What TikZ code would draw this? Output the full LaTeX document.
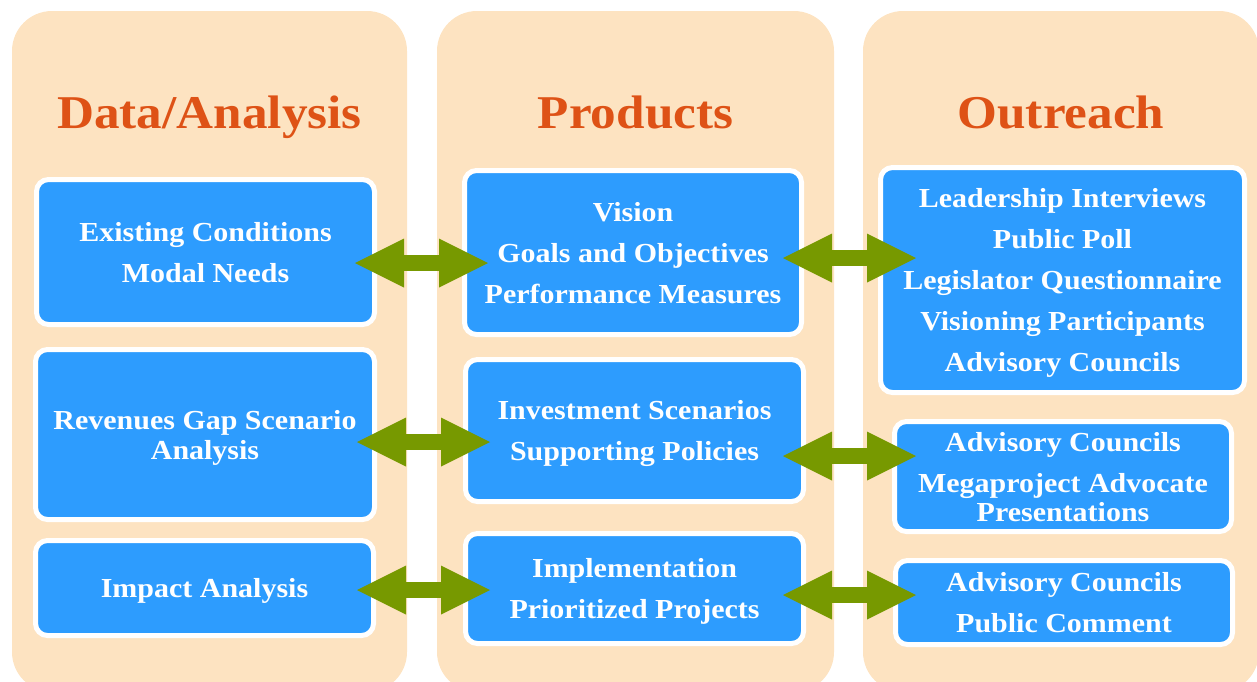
\documentclass[tikz,border=0pt]{standalone}
\usepackage{fontspec}
\setmainfont{Liberation Serif}[FakeStretch=1.09]
\usetikzlibrary{arrows.meta}
\definecolor{panelpeach}{HTML}{FDE3C1}
\definecolor{boxblue}{HTML}{2D9CFE}
\definecolor{titleorange}{HTML}{DE5216}
\definecolor{arrowgreen}{HTML}{779900}
\tikzset{
  panel/.style={fill=panelpeach, rounded corners=40pt},
  coltitle/.style={anchor=base, text=titleorange,
    font=\fontsize{47}{50}\selectfont\bfseries},
  itembox/.style={rectangle, rounded corners=12pt, fill=boxblue, draw=white,
    line width=5pt, inner sep=0pt, align=center, text=white, text depth=0pt,
    font=\fontsize{27.5}{41}\selectfont\bfseries},
  bigtip/.tip={Triangle[length=49pt, width=49pt, line width=0pt]},
  dblarrow/.style={draw=arrowgreen, line width=16pt, bigtip-bigtip},
}
\begin{document}
\begin{tikzpicture}[x=1pt, y=-1pt]
  \useasboundingbox (0,0) rectangle (1257,681);
  \clip (0,0) rectangle (1257,681);

  % column panels
  \fill[panel] (12,11) rectangle (407,692);
  \fill[panel] (437,11) rectangle (834,692);
  \fill[panel] (863,11) rectangle (1259,692);

  % column titles
  \node[coltitle] (t1) at (209.5,128) {Data/Analysis};
  \node[coltitle] (t2) at (635.5,128) {Products};
  \node[coltitle] (t3) at (1061,128) {Outreach};

  % data / analysis boxes
  \node[itembox, minimum width=338pt, minimum height=145pt] (a1) at (205.5,252)
    {Existing Conditions\\Modal Needs};
  \node[itembox, minimum width=339pt, minimum height=170pt] (a2) at (205,434.5)
    {Revenues Gap Scenario\\[-11pt]Analysis};
  \node[itembox, minimum width=338pt, minimum height=95pt] (a3) at (204.5,588)
    {Impact Analysis};

  % product boxes
  \node[itembox, minimum width=337pt, minimum height=164pt] (b1) at (633,252.5)
    {Vision\\Goals and Objectives\\Performance Measures};
  \node[itembox, minimum width=338pt, minimum height=142pt] (b2) at (634.5,430.5)
    {Investment Scenarios\\Supporting Policies};
  \node[itembox, minimum width=338pt, minimum height=110pt] (b3) at (634.5,588.5)
    {Implementation\\Prioritized Projects};

  % outreach boxes
  \node[itembox, minimum width=364pt, minimum height=225pt] (c1) at (1062.5,280)
    {Leadership Interviews\\Public Poll\\Legislator Questionnaire\\Visioning Participants\\Advisory Councils};
  \node[itembox, minimum width=337pt, minimum height=110pt] (c2) at (1063,476.5)
    {Advisory Councils\\Megaproject Advocate\\[-12pt]Presentations};
  \node[itembox, minimum width=337pt, minimum height=84pt] (c3) at (1064,602.5)
    {Advisory Councils\\Public Comment};

  % two-way links between the columns
  \draw[dblarrow] ([shift={(-22,11)}]a1.east) -- ([shift={(26,10.5)}]b1.west);
  \draw[dblarrow] ([shift={(-21,5.5)}]b1.east) -- ([shift={(38,-22)}]c1.west);
  \draw[dblarrow] ([shift={(-20,7.5)}]a2.east) -- ([shift={(27,11.5)}]b2.west);
  \draw[dblarrow] ([shift={(-23,25.5)}]b2.east) -- ([shift={(24,-20.5)}]c2.west);
  \draw[dblarrow] ([shift={(-19,2)}]a3.east) -- ([shift={(27,1.5)}]b3.west);
  \draw[dblarrow] ([shift={(-23,6.5)}]b3.east) -- ([shift={(23,-7.5)}]c3.west);
\end{tikzpicture}
\end{document}
